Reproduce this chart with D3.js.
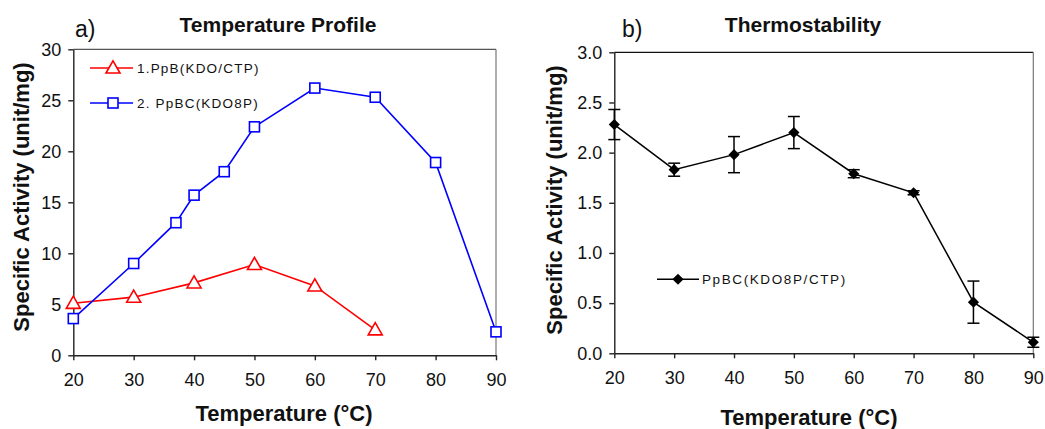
<!DOCTYPE html>
<html>
<head>
<meta charset="utf-8">
<script src="https://cdn.jsdelivr.net/npm/d3@7"></script>
<style>
  body { margin: 0; background: #fff; }
  svg { display: block; font-family: Arial, "Liberation Sans", sans-serif; }
</style>
</head>
<body>
<svg id="chart" width="1045" height="429"></svg>
<script>
// panel a) temperature profile
const ppbTemp = [20, 30, 40, 50, 60, 70];
const ppbValues = [5.1, 5.7, 7.1, 8.9, 6.8, 2.5];
const ppbcTemp = [20, 30, 37, 40, 45, 50, 60, 70, 80, 90];
const ppbcValues = [3.6, 9.0, 13.0, 15.7, 18.0, 22.4, 26.2, 25.3, 18.9, 2.3];

// panel b) thermostability
const tempB = [20, 30, 40, 50, 60, 70, 80, 90];
const stabValues = [2.28, 1.83, 1.98, 2.20, 1.79, 1.60, 0.51, 0.11];
const stabErrors = [0.15, 0.065, 0.18, 0.16, 0.04, 0.02, 0.21, 0.05];

const xTicks = [20, 30, 40, 50, 60, 70, 80, 90];
const yTicksA = [0, 5, 10, 15, 20, 25, 30];
const yTicksB = [0, 0.5, 1.0, 1.5, 2.0, 2.5, 3.0];

const svg = d3.select("#chart");
const FONT = "Arial, 'Liberation Sans', sans-serif";

function drawFrame(g, x, y, xt, yt, yfmt, topColor) {
    const [x0, x1] = x.range();
    const [y0, y1] = y.range();

    // top and right border
    g.append("line").attr("x1", x0).attr("x2", x1).attr("y1", y1).attr("y2", y1)
        .attr("stroke", topColor).attr("stroke-width", 1.2);
    g.append("line").attr("x1", x1).attr("x2", x1).attr("y1", y1).attr("y2", y0)
        .attr("stroke", "#777").attr("stroke-width", 1.2);

    g.append("g")
        .attr("transform", `translate(0,${y0})`)
        .call(d3.axisBottom(x).tickValues(xt).tickSize(5).tickPadding(13).tickSizeOuter(0))
        .call(a => a.selectAll("text").style("font-size", "18px").style("font-family", FONT).attr("fill", "#111"))
        .call(a => a.selectAll("path, line").attr("stroke", "#222").attr("stroke-width", 1.4));

    g.append("g")
        .attr("transform", `translate(${x0},0)`)
        .call(d3.axisLeft(y).tickValues(yt).tickFormat(yfmt).tickSize(5).tickPadding(7).tickSizeOuter(0))
        .call(a => a.selectAll("text").style("font-size", "18px").style("font-family", FONT).attr("fill", "#111"))
        .call(a => a.selectAll("path, line").attr("stroke", "#222").attr("stroke-width", 1.4));
}

function labels(g, opt) {
    g.append("text").attr("x", opt.letterX).attr("y", 37)
        .style("font-size", "23px").attr("fill", "#111").text(opt.letter);
    g.append("text").attr("x", opt.titleX).attr("y", 32).attr("text-anchor", "middle")
        .style("font-size", "21px").style("font-weight", "bold").attr("fill", "#111").text(opt.title);
    g.append("text").attr("transform", `translate(${opt.ylabX},${opt.ylabY}) rotate(-90)`)
        .attr("text-anchor", "middle")
        .style("font-size", "22px").style("font-weight", "bold").attr("fill", "#111")
        .text("Specific Activity (unit/mg)");
    g.append("text").attr("x", opt.xlabX).attr("y", opt.xlabY).attr("text-anchor", "middle")
        .style("font-size", "22px").style("font-weight", "bold").attr("fill", "#111")
        .text("Temperature (°C)");
}

// ---------- panel a ----------
const gA = svg.append("g");
const xA = d3.scaleLinear().domain([20, 90]).range([73.3, 496]);
const yA = d3.scaleLinear().domain([0, 30]).range([355.3, 49.3]);
drawFrame(gA, xA, yA, xTicks, yTicksA, d3.format("d"), "#555");
labels(gA, { letter: "a)", letterX: 75, title: "Temperature Profile", titleX: 278,
    ylabX: 29, ylabY: 197, xlabX: 284, xlabY: 421 });

const lineA = d3.line().x(d => xA(d[0])).y(d => yA(d[1]));
const triangle = d3.symbol().type(d3.symbolTriangle).size(85);

const ppb = ppbTemp.map((t, i) => [t, ppbValues[i]]);
const ppbc = ppbcTemp.map((t, i) => [t, ppbcValues[i]]);

gA.append("path").datum(ppb).attr("d", lineA).attr("fill", "none").attr("stroke", "#ff0000").attr("stroke-width", 1.6);
gA.append("path").datum(ppbc).attr("d", lineA).attr("fill", "none").attr("stroke", "#0000ff").attr("stroke-width", 1.6);

gA.selectAll("path.tri").data(ppb).enter().append("path").attr("class", "tri")
    .attr("d", triangle)
    .attr("transform", d => `translate(${xA(d[0])},${yA(d[1]) + 1})`)
    .attr("fill", "#fff").attr("stroke", "#ff0000").attr("stroke-width", 1.6);
gA.selectAll("rect.sq").data(ppbc).enter().append("rect").attr("class", "sq")
    .attr("x", d => xA(d[0]) - 5).attr("y", d => yA(d[1]) - 5)
    .attr("width", 10).attr("height", 10)
    .attr("fill", "#fff").attr("stroke", "#0000ff").attr("stroke-width", 1.6);

// legend a
const legA = [
    { label: "1.PpB(KDO/CTP)", color: "#ff0000", shape: "tri", y: 68 },
    { label: "2. PpBC(KDO8P)", color: "#0000ff", shape: "sq", y: 103 }
];
legA.forEach(d => {
    gA.append("line").attr("x1", 90).attr("x2", 133).attr("y1", d.y).attr("y2", d.y)
        .attr("stroke", d.color).attr("stroke-width", 1.6);
    if (d.shape === "tri") {
        gA.append("path").attr("d", triangle).attr("transform", `translate(113,${d.y + 1})`)
            .attr("fill", "#fff").attr("stroke", d.color).attr("stroke-width", 1.6);
    } else {
        gA.append("rect").attr("x", 108).attr("y", d.y - 5).attr("width", 10).attr("height", 10)
            .attr("fill", "#fff").attr("stroke", d.color).attr("stroke-width", 1.6);
    }
    gA.append("text").attr("x", 137).attr("y", d.y + 5)
        .style("font-size", "13.5px").style("letter-spacing", "1.2px").attr("fill", "#111").text(d.label);
});

// ---------- panel b ----------
const gB = svg.append("g");
const xB = d3.scaleLinear().domain([20, 90]).range([614.3, 1033.3]);
const yB = d3.scaleLinear().domain([0, 3]).range([353.3, 52.3]);
drawFrame(gB, xB, yB, xTicks, yTicksB, d3.format(".1f"), "#111");
labels(gB, { letter: "b)", letterX: 622, title: "Thermostability", titleX: 803,
    ylabX: 562, ylabY: 200, xlabX: 809, xlabY: 425 });

const stab = tempB.map((t, i) => ({ t, v: stabValues[i], e: stabErrors[i] }));
const lineB = d3.line().x(d => xB(d.t)).y(d => yB(d.v));
gB.append("path").datum(stab).attr("d", lineB).attr("fill", "none").attr("stroke", "#000").attr("stroke-width", 1.5);

const err = gB.selectAll("g.err").data(stab).enter().append("g").attr("class", "err");
err.append("line").attr("x1", d => xB(d.t)).attr("x2", d => xB(d.t))
    .attr("y1", d => yB(d.v + d.e)).attr("y2", d => yB(d.v - d.e))
    .attr("stroke", "#000").attr("stroke-width", 1.5);
err.append("line").attr("x1", d => xB(d.t) - 6).attr("x2", d => xB(d.t) + 6)
    .attr("y1", d => yB(d.v + d.e)).attr("y2", d => yB(d.v + d.e))
    .attr("stroke", "#000").attr("stroke-width", 1.5);
err.append("line").attr("x1", d => xB(d.t) - 6).attr("x2", d => xB(d.t) + 6)
    .attr("y1", d => yB(d.v - d.e)).attr("y2", d => yB(d.v - d.e))
    .attr("stroke", "#000").attr("stroke-width", 1.5);

// diamonds: squares turned 45 degrees
const diamond = d3.symbol().type(d3.symbolSquare).size(62);
gB.selectAll("path.dia").data(stab).enter().append("path").attr("class", "dia")
    .attr("d", diamond)
    .attr("transform", d => `translate(${xB(d.t)},${yB(d.v)}) rotate(45)`)
    .attr("fill", "#000");

// legend b
gB.append("line").attr("x1", 657).attr("x2", 699).attr("y1", 279.3).attr("y2", 279.3)
    .attr("stroke", "#000").attr("stroke-width", 1.5);
gB.append("path").attr("d", diamond).attr("transform", "translate(678,279.3) rotate(45)").attr("fill", "#000");
gB.append("text").attr("x", 702).attr("y", 284)
    .style("font-size", "13.5px").style("letter-spacing", "1.6px").attr("fill", "#111").text("PpBC(KDO8P/CTP)");
</script>
</body>
</html>
